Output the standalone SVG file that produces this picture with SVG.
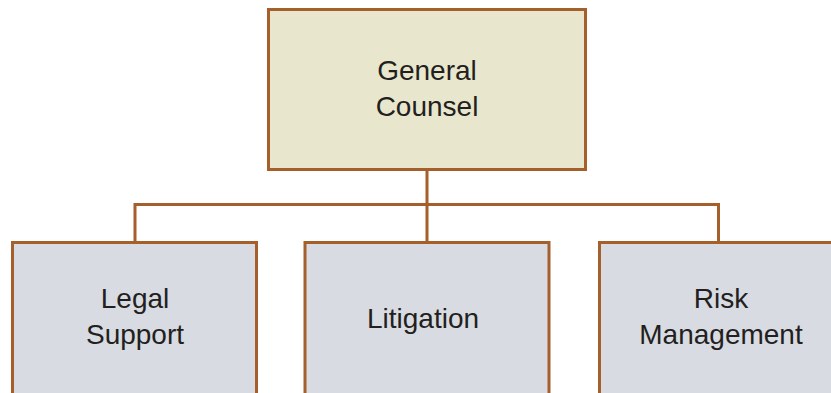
<svg xmlns="http://www.w3.org/2000/svg" width="831" height="393" viewBox="0 0 831 393">
<style>
.box{stroke:#a55f2b;stroke-width:3}
.top{fill:#e8e7cd}
.sub{fill:#d8dbe2}
.conn{fill:none;stroke:#a55f2b;stroke-width:3}
text{font-family:"Liberation Sans",Arial,sans-serif;font-size:28px;fill:#231f20;text-anchor:middle}
</style>
<rect width="831" height="393" fill="#ffffff"/>
<g id="connectors">
<path class="conn" d="M427 169.5V204.5M135 242.5V204.5H718.5V242.5M427 204.5V242.5"/>
</g>
<g id="general-counsel">
<rect class="box top" x="268.5" y="9.5" width="317" height="160"/>
<text x="427" y="80">General</text>
<text x="427" y="116">Counsel</text>
</g>
<g id="legal-support">
<rect class="box sub" x="12.5" y="242.5" width="244" height="160"/>
<text x="135" y="308">Legal</text>
<text x="135" y="344">Support</text>
</g>
<g id="litigation">
<rect class="box sub" x="305" y="242.5" width="244" height="160"/>
<text x="423" y="328">Litigation</text>
</g>
<g id="risk-management">
<rect class="box sub" x="599.5" y="242.5" width="244" height="160"/>
<text x="721" y="308">Risk</text>
<text x="721" y="344">Management</text>
</g>
</svg>
